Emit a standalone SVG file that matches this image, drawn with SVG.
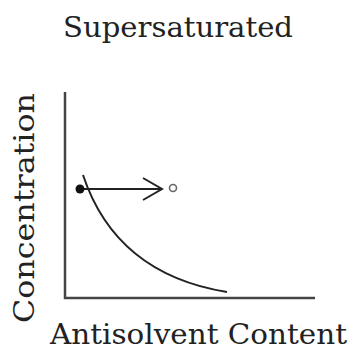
<svg xmlns="http://www.w3.org/2000/svg" width="353" height="352" viewBox="0 0 353 352">
<style>
.t{font-family:"DejaVu Serif","Liberation Serif",serif;font-size:27px;fill:#222}
.ln{fill:none;stroke:#222;stroke-width:2}
</style>
<rect width="353" height="352" fill="#fff"/>
<g id="title"><text class="t" x="63" y="37" textLength="230" lengthAdjust="spacingAndGlyphs">Supersaturated</text></g>
<g id="xlabel"><text class="t" x="50" y="344" textLength="297" lengthAdjust="spacingAndGlyphs">Antisolvent Content</text></g>
<g id="ylabel"><text class="t" transform="translate(34,323) rotate(-90)" x="0" y="0" textLength="230" lengthAdjust="spacingAndGlyphs">Concentration</text></g>
<g id="axes"><path d="M65,92 V298 H315" fill="none" stroke="#444" stroke-width="2.5"/></g>
<g id="curve"><path class="ln" d="M83,175 Q116,274 227,292"/></g>
<g id="connectors">
<path class="ln" d="M80,189 H161"/>
<path class="ln" stroke-width="2.5" d="M143,178 L162,189 L143,200"/>
</g>
<g id="start"><circle cx="80" cy="189" r="4.5" fill="#111"/></g>
<g id="end"><circle cx="173" cy="188" r="3.5" fill="#fff" stroke="#666" stroke-width="1.6"/></g>
</svg>
